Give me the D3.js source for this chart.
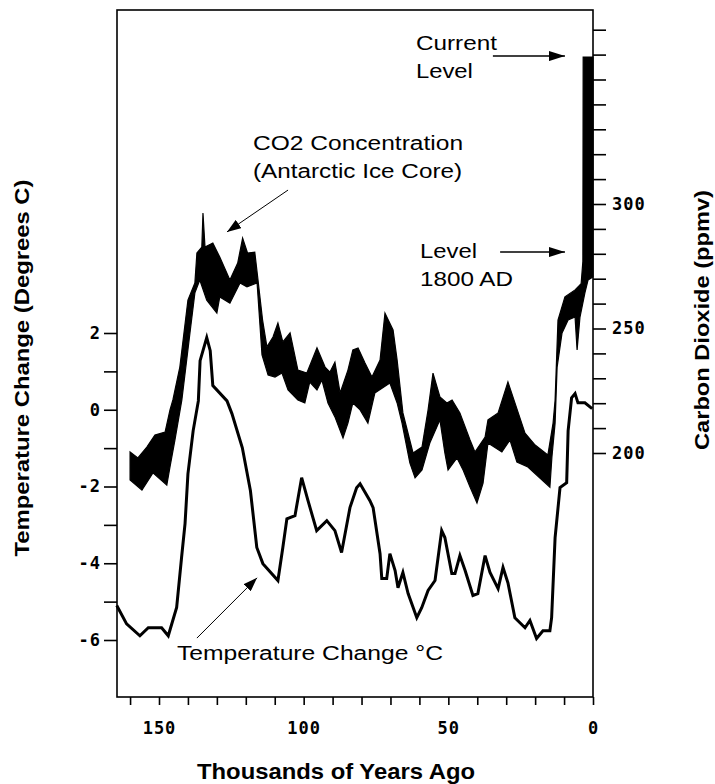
<!DOCTYPE html>
<html>
<head>
<meta charset="utf-8">
<script src="https://cdn.jsdelivr.net/npm/d3@7"></script>
<style>
  body { margin: 0; background: #fff; }
  svg { display: block; }
  text { font-family: "Liberation Sans", Arial, sans-serif; fill: #000; }
  .tick text { font-family: "DejaVu Sans Mono", monospace; font-size: 17px; font-weight: bold; letter-spacing: 1px; }
  .axis path, .axis line { stroke: #000; stroke-width: 1.6; }
  .note { font-size: 20px; }
  .title { font-weight: bold; }
</style>
</head>
<body>
<div id="chart"></div>
<script>
// temperature change (deg C) by thousands of years ago
const tempSeries = [
  [164.6, -5.10], [161.2, -5.58], [156.6, -5.89], [153.7, -5.68], [149.1, -5.68],
  [146.8, -5.89], [143.9, -5.15], [142.2, -3.85], [141.0, -2.97], [140.0, -1.67],
  [138.2, -0.55], [136.4, 0.23], [135.8, 1.28], [133.5, 1.88], [132.3, 1.54],
  [131.4, 0.63], [126.5, 0.23], [124.8, -0.10], [121.2, -0.99], [118.4, -2.11],
  [116.2, -3.59], [114.1, -4.01], [108.9, -4.45], [107.2, -3.59], [105.8, -2.84],
  [103.0, -2.76], [100.7, -1.77], [98.5, -2.37], [95.5, -3.15], [92.0, -2.89],
  [89.2, -3.15], [86.9, -3.72], [84.0, -2.55], [81.7, -2.03], [80.5, -1.93],
  [77.1, -2.37], [76.0, -2.55], [73.6, -3.75], [73.0, -4.40], [71.3, -4.40],
  [70.2, -3.75], [68.4, -4.19], [67.4, -4.64], [65.7, -4.24], [63.9, -4.79],
  [60.9, -5.42], [59.2, -5.16], [57.0, -4.71], [54.6, -4.45], [52.3, -3.15],
  [51.2, -3.33], [48.8, -4.27], [47.7, -4.27], [46.0, -3.80], [44.2, -4.19],
  [41.5, -4.84], [39.8, -4.79], [37.3, -3.80], [35.6, -4.24], [32.8, -4.66],
  [31.1, -4.11], [29.4, -4.51], [27.0, -5.42], [23.5, -5.68], [21.8, -5.49],
  [19.5, -5.96], [17.3, -5.76], [14.9, -5.76], [14.3, -5.42], [13.1, -3.33],
  [11.4, -2.03], [9.1, -1.90], [8.6, -0.55], [7.4, 0.31], [6.2, 0.42],
  [5.2, 0.18], [2.8, 0.18], [0.3, 0.03]
];

// CO2 band (ppmv): upper and lower edges
const co2Upper = [
  [160.0, 200.4], [157.3, 198.0], [154.2, 202.4], [151.4, 207.2], [147.9, 208.4],
  [146.2, 217.3], [145.2, 221.3], [142.8, 234.5], [140.0, 261.4], [137.6, 268.3],
  [136.9, 280.3], [135.2, 282.7], [134.8, 296.4], [134.1, 282.7], [131.4, 284.3],
  [129.0, 278.7], [125.5, 269.5], [122.8, 276.3], [121.1, 286.3], [119.4, 280.3],
  [116.9, 280.7], [115.9, 270.7], [114.2, 253.4], [112.7, 242.6], [110.6, 246.6],
  [108.9, 252.2], [107.2, 244.6], [104.7, 248.2], [102.0, 233.3], [98.9, 232.1],
  [95.4, 242.2], [92.6, 234.5], [90.9, 232.5], [89.2, 236.5], [87.4, 224.1],
  [84.7, 233.3], [83.0, 241.4], [81.2, 242.2], [78.8, 236.1], [76.4, 230.5],
  [73.6, 237.3], [71.9, 256.2], [69.1, 249.4], [67.7, 237.3], [65.7, 216.1],
  [62.2, 200.0], [59.1, 202.4], [57.0, 217.3], [55.3, 232.1], [52.9, 222.5],
  [50.5, 220.1], [48.7, 221.3], [46.0, 216.1], [42.5, 205.2], [40.8, 200.4],
  [37.3, 206.4], [36.3, 213.3], [32.8, 216.1], [29.4, 228.5], [23.5, 208.0],
  [20.0, 203.2], [15.6, 199.2], [13.8, 212.0], [13.1, 221.3], [12.1, 253.4],
  [9.7, 262.7], [6.2, 265.5], [4.1, 268.0], [3.5, 277.0], [3.4, 359.0], [0, 359.0]
];
const co2Lower = [
  [160.0, 189.2], [155.9, 185.1], [152.1, 192.0], [147.3, 187.1], [146.2, 194.4],
  [144.5, 205.2], [142.1, 221.3], [139.3, 248.2], [137.6, 264.3], [135.9, 269.5],
  [133.5, 261.4], [130.0, 256.2], [129.0, 262.7], [125.5, 260.2], [122.0, 268.3],
  [119.6, 266.7], [116.1, 268.3], [114.4, 239.4], [112.3, 231.3], [109.9, 230.5],
  [107.5, 232.1], [105.4, 225.3], [102.0, 221.3], [99.6, 220.1], [97.9, 228.5],
  [95.4, 225.3], [93.7, 229.3], [91.6, 220.1], [89.2, 214.5], [86.4, 206.0],
  [84.7, 212.0], [83.0, 220.1], [80.5, 217.3], [77.8, 212.0], [75.4, 224.1],
  [70.2, 228.1], [67.7, 220.1], [66.0, 212.0], [63.3, 196.0], [61.5, 190.0],
  [59.1, 193.2], [56.4, 204.0], [52.9, 213.3], [51.2, 200.0], [50.1, 193.2],
  [47.0, 198.0], [44.9, 193.2], [42.5, 186.3], [40.1, 179.9], [38.0, 187.9],
  [36.3, 204.0], [31.5, 200.4], [28.7, 205.2], [26.3, 196.4], [22.5, 194.4],
  [14.9, 186.3], [14.2, 198.4], [13.1, 212.0], [12.4, 234.5], [10.7, 248.2],
  [8.6, 253.4], [6.2, 254.6], [5.5, 241.4], [4.5, 254.6], [2.8, 264.3],
  [1.7, 269.5], [0, 270.7]
];

const xTicks = d3.range(0, 161, 10);
const xLabels = [0, 50, 100, 150];
const tempTicks = d3.range(-6, 3, 1);
const tempLabels = [-6, -4, -2, 0, 2];
const co2Ticks = d3.range(200, 371, 10);
const co2Labels = [200, 250, 300];

// annotations in data units: [kyr, value]
const notes = {
  co2Lines: ["CO2 Concentration", "(Antarctic Ice Core)"],
  co2Pos: [117.5, 321.7], co2Widths: [210, 209],
  co2Arrow: [[105.4, 305.6], [126.5, 288.8]],
  currentLines: ["Current", "Level"], currentPos: [61.2, 361.8], currentWidths: [81, 57],
  currentArrow: [[34.6, 359.4], [9.7, 359.4]],
  preLines: ["Level", "1800 AD"], prePos: [59.8, 278.3], preWidths: [57, 93],
  preArrow: [[32.1, 280.7], [9.7, 280.7]],
  tempLabel: "Temperature Change \u00B0C", tempPos: [143.8, -6.52], tempWidth: 266,
  tempArrow: [[136.9, -5.95], [116.1, -4.38]]
};

const width = 715, height = 784;
const plot = { left: 117, right: 593, top: 10, bottom: 697 };

const svg = d3.select("#chart").append("svg")
  .attr("width", width)
  .attr("height", height);

const x = d3.scaleLinear().domain([150, 0]).range([159, 593]);
const yT = d3.scaleLinear().domain([-6, 2]).range([640, 333]);
const yC = d3.scaleLinear().domain([200, 300]).range([453, 204]);

const defs = svg.append("defs");
defs.append("marker")
  .attr("id", "head")
  .attr("markerUnits", "userSpaceOnUse")
  .attr("viewBox", "0 0 16 10")
  .attr("refX", 16).attr("refY", 5)
  .attr("markerWidth", 16).attr("markerHeight", 10)
  .attr("orient", "auto")
  .append("path").attr("d", "M0,0 L16,5 L0,10 Z").attr("fill", "#000");
defs.append("marker")
  .attr("id", "headSmall")
  .attr("markerUnits", "userSpaceOnUse")
  .attr("viewBox", "0 0 14 10")
  .attr("refX", 14).attr("refY", 5)
  .attr("markerWidth", 14).attr("markerHeight", 10)
  .attr("orient", "auto")
  .append("path").attr("d", "M0,0 L14,5 L0,10 Z").attr("fill", "#000");

// co2 band
const band = co2Upper.concat(co2Lower.slice().reverse());
svg.append("path")
  .attr("d", d3.line().x(d => x(d[0])).y(d => yC(d[1]))(band) + "Z")
  .attr("fill", "#000")
  .attr("stroke", "#000")
  .attr("stroke-width", 1.2);

// temperature line
svg.append("path")
  .datum(tempSeries)
  .attr("d", d3.line().x(d => x(d[0])).y(d => yT(d[1])))
  .attr("fill", "none")
  .attr("stroke", "#000")
  .attr("stroke-width", 3)
  .attr("stroke-linejoin", "miter");

// frame
svg.append("rect")
  .attr("x", plot.left).attr("y", plot.top)
  .attr("width", plot.right - plot.left).attr("height", plot.bottom - plot.top)
  .attr("fill", "none").attr("stroke", "#000").attr("stroke-width", 1.6);

// axes
const gx = svg.append("g").attr("class", "axis")
  .attr("transform", `translate(0,${plot.bottom})`)
  .call(d3.axisBottom(x).tickValues(xTicks).tickSize(8).tickPadding(17)
    .tickFormat(d => xLabels.includes(d) ? String(d) : ""));
const gl = svg.append("g").attr("class", "axis")
  .attr("transform", `translate(${plot.left},0)`)
  .call(d3.axisLeft(yT).tickValues(tempTicks).tickSize(13).tickPadding(4)
    .tickFormat(d => tempLabels.includes(d) ? String(d) : ""));
const gr = svg.append("g").attr("class", "axis")
  .attr("transform", `translate(${plot.right},0)`)
  .call(d3.axisRight(yC).tickValues(co2Ticks).tickSize(13).tickPadding(6)
    .tickFormat(d => co2Labels.includes(d) ? String(d) : ""));
[gx, gl, gr].forEach(g => g.select(".domain").remove());
gl.selectAll(".tick text").attr("dx", "1px");

// axis titles
svg.append("text").attr("class", "title")
  .attr("x", 336).attr("y", 779)
  .attr("font-size", 22)
  .attr("text-anchor", "middle")
  .attr("textLength", 278).attr("lengthAdjust", "spacingAndGlyphs")
  .text("Thousands of Years Ago");
svg.append("text").attr("class", "title")
  .attr("transform", "translate(29,368) rotate(-90)")
  .attr("font-size", 21)
  .attr("text-anchor", "middle")
  .attr("textLength", 377).attr("lengthAdjust", "spacingAndGlyphs")
  .text("Temperature Change (Degrees C)");
svg.append("text").attr("class", "title")
  .attr("transform", "translate(709,320) rotate(-90)")
  .attr("font-size", 21)
  .attr("text-anchor", "middle")
  .attr("textLength", 260).attr("lengthAdjust", "spacingAndGlyphs")
  .text("Carbon Dioxide (ppmv)");

// annotations
function noteBlock(lines, pos, widths, scaleY) {
  lines.forEach((t, i) => {
    svg.append("text").attr("class", "note")
      .attr("x", x(pos[0]))
      .attr("y", scaleY(pos[1]) + i * 28)
      .attr("textLength", widths[i]).attr("lengthAdjust", "spacingAndGlyphs")
      .text(t);
  });
}
function arrow(pts, scaleY, marker, w) {
  svg.append("line")
    .attr("x1", x(pts[0][0])).attr("y1", scaleY(pts[0][1]))
    .attr("x2", x(pts[1][0])).attr("y2", scaleY(pts[1][1]))
    .attr("stroke", "#000").attr("stroke-width", w)
    .attr("marker-end", `url(#${marker})`);
}

noteBlock(notes.co2Lines, notes.co2Pos, notes.co2Widths, yC);
arrow(notes.co2Arrow, yC, "headSmall", 1);
noteBlock(notes.currentLines, notes.currentPos, notes.currentWidths, yC);
arrow(notes.currentArrow, yC, "head", 1.5);
noteBlock(notes.preLines, notes.prePos, notes.preWidths, yC);
arrow(notes.preArrow, yC, "head", 1.5);
noteBlock([notes.tempLabel], notes.tempPos, [notes.tempWidth], yT);
arrow(notes.tempArrow, yT, "headSmall", 1);
</script>
</body>
</html>
